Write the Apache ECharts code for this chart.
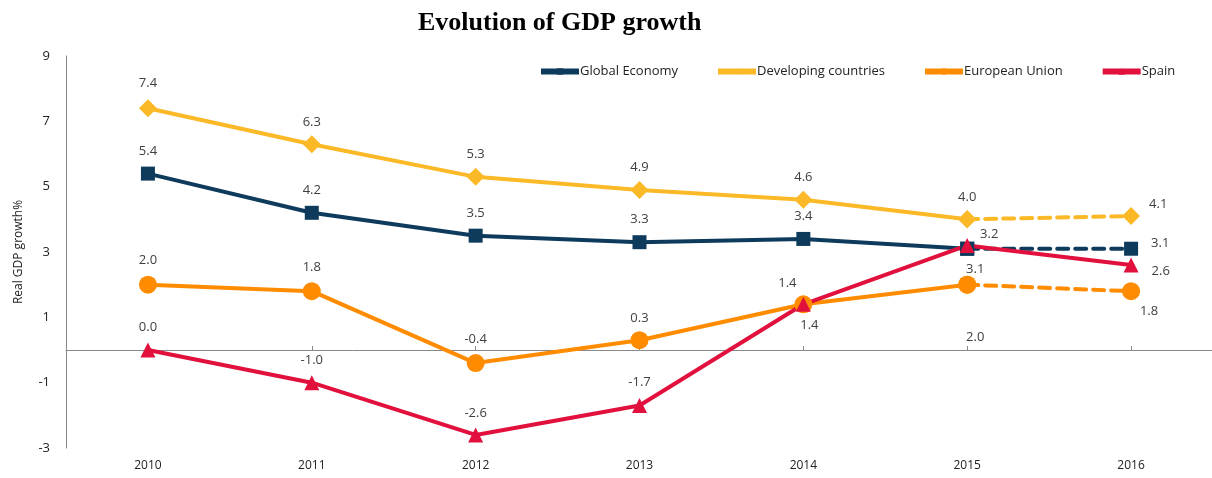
<!DOCTYPE html>
<html><head><meta charset="utf-8">
<script src="https://cdn.jsdelivr.net/npm/echarts@6/dist/echarts.min.js"></script>
<style>html,body{margin:0;padding:0;background:#fff}#c{width:1212px;height:478px}</style>
</head><body><div id="c"></div>
<script>
var years = ['2010','2011','2012','2013','2014','2015','2016'];
var globalEconomy = [5.4, 4.2, 3.5, 3.3, 3.4, 3.1, 3.1];
var developing = [7.4, 6.3, 5.3, 4.9, 4.6, 4.0, 4.1];
var europeanUnion = [2.0, 1.8, -0.4, 0.3, 1.4, 2.0, 1.8];
var spain = [0.0, -1.0, -2.6, -1.7, 1.4, 3.2, 2.6];
var yTicks = [-3, -1, 1, 3, 5, 7, 9];

// label placement (style only): [position, offsetX, offsetY]
var lpGlobal = [['top',0,-4],['top',0,-4],['top',0,-4],['top',0,-4],['top',0,-4],['bottom',8,2],['right',8,-5]];
var lpDev = [['top',0,-4],['top',0,-1],['top',0,-2],['top',0,-2],['top',0,-2],['top',0,-2],['right',4,-12]];
var lpEU = [['top',0,-4],['top',0,-3],['top',0,-3],['top',0,-1],['top',-16,0],['bottom',8,32],['bottom',18,0]];
var lpSpain = [['top',0,-4],['top',0,-3],['top',0,-3],['top',0,-4],['bottom',6,2],['top',22,8],['right',8,6]];

var colors = {g:'#0E3A5C', d:'#FBB927', e:'#FF8C00', s:'#E1103C'};
var labelStyle = {show:true, color:'#404040', fontSize:13, fontFamily:'Open Sans, Noto Sans, sans-serif',
  formatter:function(p){return p.value.toFixed(1);}};

function items(vals, lp, from, to, withLabel){
  return vals.map(function(v,i){
    if(i<from||i>to) return null;
    var o = {value:v};
    if(withLabel){
      o.label = Object.assign({}, labelStyle, {position:lp[i][0], offset:[lp[i][1], lp[i][2]]});
    } else {
      o.label = {show:false};
    }
    return o;
  });
}

function mk(name, vals, lp, color, symbol, size, dashedFrom){
  var solidTo = dashedFrom==null ? vals.length-1 : dashedFrom;
  var arr = [{
    name:name, type:'line', data:items(vals, lp, 0, solidTo, true),
    symbol:symbol, symbolSize:size, showAllSymbol:true, connectNulls:false,
    lineStyle:{color:color, width:4}, itemStyle:{color:color},
    emphasis:{disabled:true}, z:3
  }];
  if(dashedFrom!=null){
    var d = items(vals, lp, dashedFrom, vals.length-1, false);
    var n = vals.length-1;
    d[n] = {value:vals[n], label:Object.assign({}, labelStyle, {position:lp[n][0], offset:[lp[n][1], lp[n][2]]})};
    arr.push({
      name:name+' (forecast)', type:'line', data:d,
      symbol:symbol, symbolSize:size, showAllSymbol:true,
      lineStyle:{color:color, width:4, type:[11,7], cap:'round'}, itemStyle:{color:color},
      emphasis:{disabled:true}, z:2
    });
  }
  return arr;
}

var series = [].concat(
  mk('Global Economy', globalEconomy, lpGlobal, colors.g, 'rect', 14, 5),
  mk('Developing countries', developing, lpDev, colors.d, 'diamond', 18, 5),
  mk('European Union', europeanUnion, lpEU, colors.e, 'circle', 18, 5),
  mk('Spain', spain, lpSpain, colors.s, 'triangle', 15, null)
);

var chart = echarts.init(document.getElementById('c'), null, {renderer:'canvas'});
chart.setOption({
  animation:false,
  backgroundColor:'#fff',
  title:{text:'Evolution of GDP growth', left:413, top:5,
    textStyle:{fontFamily:'Liberation Serif, Times New Roman, serif', fontWeight:'bold', fontSize:26, color:'#000'}},
  legend:{
    data:['Global Economy','Developing countries','European Union','Spain'],
    left:533, top:60, itemWidth:38, itemHeight:8, itemGap:37,
    lineStyle:{width:6},
    textStyle:{color:'#222', fontSize:13, fontFamily:'Open Sans, Noto Sans, sans-serif', padding:[0,0,0,-4]}
  },
  grid:{left:66, right:-1, top:56, bottom:30, containLabel:false, outerBoundsMode:'none'},
  xAxis:[{
    type:'category', data:years, boundaryGap:true, position:'bottom',
    axisLine:{show:false, onZero:false}, axisTick:{show:false},
    axisLabel:{color:'#222', fontSize:12, margin:12, fontFamily:'Open Sans, Noto Sans, sans-serif'}
  },{
    type:'category', data:years, boundaryGap:true, position:'bottom',
    axisLine:{show:true, onZero:true, lineStyle:{color:'#888', width:1}},
    axisTick:{show:true, inside:true, length:4, alignWithLabel:true, lineStyle:{color:'#888'}},
    axisLabel:{show:false}
  }],
  yAxis:{
    type:'value', min:-3, max:9, interval:2,
    name:'Real GDP growth%', nameLocation:'middle', nameGap:41, nameRotate:90,
    nameTextStyle:{color:'#222', fontSize:12, fontFamily:'Open Sans, Noto Sans, sans-serif'},
    axisLine:{show:true, lineStyle:{color:'#888'}}, axisTick:{show:false},
    splitLine:{show:false},
    axisLabel:{color:'#222', fontSize:13, margin:16, fontFamily:'Open Sans, Noto Sans, sans-serif',
      customValues: yTicks}
  },
  series:series
});
</script></body></html>
